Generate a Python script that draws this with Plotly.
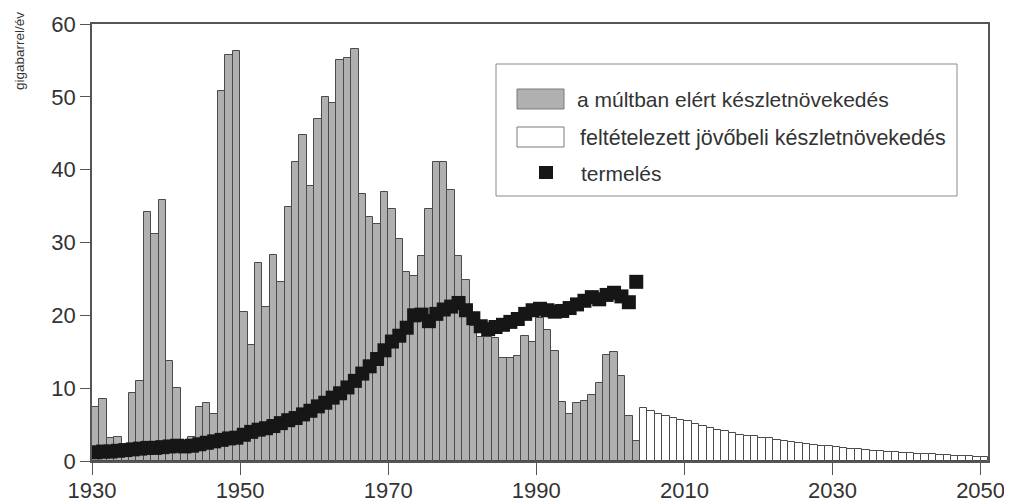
import numpy as np
import plotly.graph_objects as go

# ---------------- data ----------------
past_years = list(range(1930, 2004))
past_growth = [
    7.4, 8.5, 3.1, 3.3, 1.0, 9.3, 11.0, 34.2, 31.1, 35.9,
    13.7, 10.0, 1.5, 3.3, 7.4, 7.9, 6.4, 50.8, 55.7, 56.3,
    20.4, 15.9, 27.2, 21.2, 28.3, 24.6, 34.9, 41.0, 44.8, 37.8,
    47.0, 50.0, 49.2, 55.0, 55.4, 56.5, 36.6, 33.5, 32.6, 37.0,
    34.6, 30.5, 26.0, 25.4, 28.1, 34.6, 41.0, 41.0, 37.2, 28.1,
    24.9, 18.5, 17.0, 17.0, 16.9, 14.1, 14.1, 14.4, 17.1, 16.4,
    19.6, 18.0, 15.1, 8.1, 6.4, 7.9, 8.3, 9.0, 10.7, 14.5,
    14.9, 11.7, 6.2, 2.75,
]

future_years = list(range(2004, 2051))
future_growth = [
    7.3, 6.8, 6.4, 6.15, 5.9, 5.6, 5.45, 5.1, 4.8, 4.5,
    4.3, 4.1, 3.8, 3.6, 3.5, 3.4, 3.2, 3.1, 2.9, 2.8,
    2.6, 2.5, 2.4, 2.2, 2.1, 2.0, 1.9, 1.8, 1.7, 1.6,
    1.5, 1.4, 1.35, 1.3, 1.2, 1.15, 1.1, 1.0, 0.95, 0.9,
    0.85, 0.8, 0.75, 0.7, 0.65, 0.6, 0.55,
]

prod_years = list(range(1930, 2004))
production = [
    1.2, 1.3, 1.3, 1.4, 1.5, 1.6, 1.7, 1.8, 1.8, 1.9,
    2.0, 2.1, 2.0, 2.1, 2.3, 2.5, 2.7, 2.9, 3.1, 3.2,
    3.6, 4.0, 4.3, 4.5, 4.8, 5.2, 5.6, 5.9, 6.4, 6.9,
    7.5, 8.0, 8.7, 9.3, 10.1, 11.0, 12.0, 13.0, 14.0, 15.2,
    16.4, 17.2, 18.3, 20.0, 20.1, 19.2, 20.2, 20.8, 21.2, 21.7,
    20.7, 19.6, 18.5, 18.1, 18.4, 18.7, 19.1, 19.5, 20.2, 20.7,
    20.9, 20.7, 20.5, 20.6, 21.0, 21.5, 22.0, 22.5, 22.2, 22.8,
    23.1, 22.6, 21.8, 24.6,
]

x_ticks = [1930, 1950, 1970, 1990, 2010, 2030, 2050]
y_ticks = [0, 10, 20, 30, 40, 50, 60]

legend_labels = [
    "a múltban elért készletnövekedés",
    "feltételezett jövőbeli készletnövekedés",
    "termelés",
]

# ---------------- style ----------------
GREY = "#b0b0b0"
EDGE = "#4a4a4a"
BLACK = "#161616"
TEXT = "#333333"
FONT = "Liberation Sans, Arial, sans-serif"

OFF = 8  # page body margin
W, H = 1004, 494
L, R, T, B = 84, 24, 16, 41
pw, ph = W - L - R, H - T - B


def px(x):
    """page x pixel -> paper fraction"""
    return (x - OFF - L) / pw


def py(y):
    """page y pixel -> paper fraction"""
    return (OFF + H - B - y) / ph


fig = go.Figure()

fig.add_trace(go.Bar(
    x=past_years, y=past_growth, width=1, offset=0,
    marker=dict(color=GREY, line=dict(color=EDGE, width=1)),
    name=legend_labels[0], showlegend=False,
))
fig.add_trace(go.Bar(
    x=future_years, y=future_growth, width=1, offset=0,
    marker=dict(color="white", line=dict(color=EDGE, width=1)),
    name=legend_labels[1], showlegend=False,
))
fig.add_trace(go.Scatter(
    x=np.array(prod_years) + 0.5, y=production, mode="markers",
    marker=dict(symbol="square", size=14, color=BLACK, line=dict(width=0)),
    name=legend_labels[2], showlegend=False,
))

# ---------------- manual legend ----------------
shapes = [
    dict(type="rect", xref="paper", yref="paper",
         x0=px(496), x1=px(957), y0=py(196), y1=py(64),
         line=dict(color="#8a8a8a", width=1), fillcolor="white", layer="above"),
    dict(type="rect", xref="paper", yref="paper",
         x0=px(517), x1=px(564), y0=py(109), y1=py(89),
         line=dict(color="#7a7a7a", width=1), fillcolor=GREY, layer="above"),
    dict(type="rect", xref="paper", yref="paper",
         x0=px(517), x1=px(564), y0=py(147), y1=py(127),
         line=dict(color="#7a7a7a", width=1), fillcolor="white", layer="above"),
    dict(type="rect", xref="paper", yref="paper",
         x0=px(539), x1=px(553), y0=py(179), y1=py(166),
         line=dict(color=BLACK, width=0), fillcolor=BLACK, layer="above"),
]

annotations = []
for lbl, yc, xl, fs in zip(legend_labels, [99, 138, 173], [576, 579, 580], [21, 21.5, 21]):
    annotations.append(dict(
        text=lbl, xref="paper", yref="paper", x=px(xl), y=py(yc),
        xanchor="left", yanchor="middle", showarrow=False, borderpad=0,
        font=dict(family=FONT, size=fs, color=TEXT),
    ))

annotations.append(dict(
    text="gigabarrel/év", xref="paper", yref="paper",
    x=px(20), y=py(11), xanchor="center", yanchor="top",
    textangle=-90, showarrow=False, borderpad=0,
    font=dict(family=FONT, size=13.5, color=TEXT),
))

fig.update_layout(
    width=W, height=H,
    margin=dict(l=L, r=R, t=T, b=B, pad=0, autoexpand=False),
    plot_bgcolor="white", paper_bgcolor="white",
    bargap=0, barmode="overlay",
    showlegend=False,
    shapes=shapes, annotations=annotations,
    font=dict(family=FONT, color=TEXT),
)

fig.update_xaxes(
    range=[1930, 2051], tickvals=x_ticks, ticktext=[str(v) for v in x_ticks],
    ticks="outside", ticklen=12, tickwidth=1.2, tickcolor="#555",
    showline=True, linecolor="#555", linewidth=1.5, mirror=True,
    showgrid=False, zeroline=False, automargin=False,
    ticklabelstandoff=-3,
    tickfont=dict(family=FONT, size=22, color=TEXT),
)
fig.update_yaxes(
    range=[0, 60], tickvals=y_ticks,
    ticks="outside", ticklen=10, tickwidth=1.2, tickcolor="#555",
    showline=True, linecolor="#555", linewidth=1.5, mirror=True,
    showgrid=False, zeroline=False, automargin=False,
    tickfont=dict(family=FONT, size=22, color=TEXT),
)

fig.write_html("out.html")
